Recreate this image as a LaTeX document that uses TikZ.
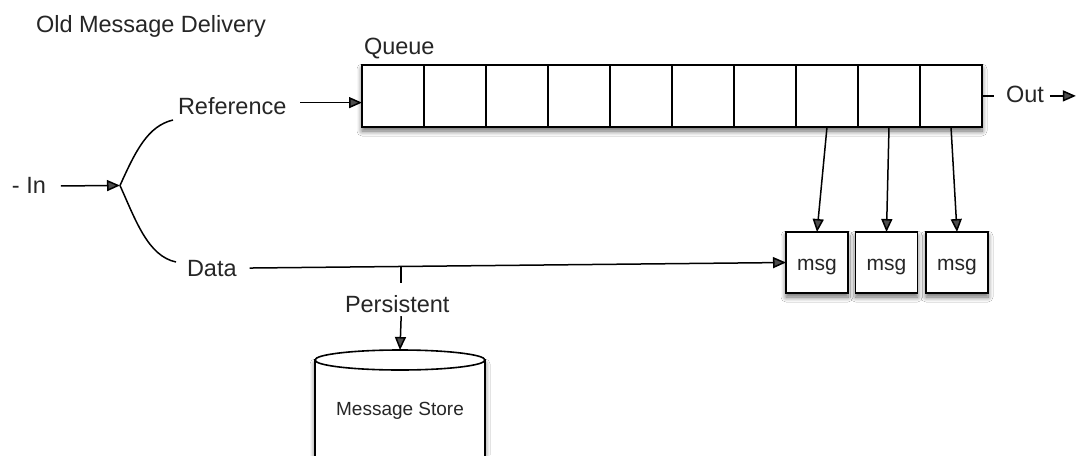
\documentclass[tikz,border=0pt]{standalone}
\usepackage{fontspec}
\setmainfont{Liberation Sans}
\usetikzlibrary{arrows.meta,shadows.blur,calc}
\begin{document}
\begin{tikzpicture}[x=1pt,y=-1pt,
  every node/.style={inner sep=0pt, outer sep=0pt},
  txt/.style={font=\fontsize{23.5}{28}\selectfont, text=black!85, anchor=base west},
  shad/.style={blur shadow={shadow xshift=0pt, shadow yshift=-4pt, shadow blur radius=5pt, shadow blur steps=8, shadow opacity=60}},
  cell/.style={draw, line width=1.6pt, minimum width=62pt, minimum height=62pt, fill=white},
  msgbox/.style={draw, line width=1.6pt, fill=white, minimum width=62pt, minimum height=61pt, font=\fontsize{21}{25}\selectfont, text=black!85, text height=15pt, text depth=0pt, shad},
  conn/.style={line width=1.5pt},
  arr/.style={conn, -{Triangle[length=13pt,width=11pt]}},
]
\useasboundingbox (0,0) rectangle (1078,455);
\fill[white] (0,0) rectangle (1078,455);
\clip (0,0) rectangle (1078,455);

% labels
\node[txt] (title) at (36,32) {Old Message Delivery};
\node[txt] (qlabel) at (364,54) {Queue};
\node[txt] (ref) at (178,114) {Reference};
\node[txt] (in) at (12,193) {- In};
\node[txt] (data) at (187,276) {Data};
\node[txt] (out) at (1006,102) {Out};
\node[txt] (pers) at (345,312) {Persistent};

% queue
\node[draw, fill=white, line width=1.6pt, minimum width=620pt, minimum height=62pt, shad] (queue) at (672,96) {};
\foreach \i in {1,...,10} {
  \node[cell] (q\i) at ({393+62*(\i-1)},96) {};
}

% msg boxes
\node[msgbox] (m1) at (817,262.5) {msg};
\node[msgbox] (m2) at (886.5,262.5) {msg};
\node[msgbox] (m3) at (957,262.5) {msg};

% cylinder
\draw[line width=1.6pt, fill=white, shad] (315,360) -- (315,480) -- (485,480) -- (485,360) -- cycle;
\draw[line width=1.6pt, fill=white] (400,360) ellipse [x radius=85, y radius=10];
\node[font=\fontsize{19}{23}\selectfont, text=black!85] (store) at (400,411) {Message Store};
\coordinate (storetop) at (400,350);

% connectors
\coordinate (branch) at (120,185.5);
\coordinate (refend) at (173,120);
\coordinate (dataend) at (176,262);
\draw[arr] ([xshift=15pt,yshift=-1pt]in.east) -- (branch);
\draw[conn] (branch) .. controls (136,150) and (148,126) .. (refend);
\draw[conn] (branch) .. controls (136,221) and (148,256) .. (dataend);
\draw[arr] ([xshift=14pt,yshift=3pt]ref.east) -- ([yshift=3pt]ref.east -| q1.west);
\draw[conn] (q10.east) -- ([xshift=-12pt]out.west |- q10.east);
\draw[arr] ([xshift=6pt,yshift=-2pt]out.east) -- ++(26,0);
\draw[arr] (q8.south) -- (m1.north);
\draw[arr] (q9.south) -- (m2.north);
\draw[arr] (q10.south) -- (m3.north);
\draw[arr] ([xshift=13pt]data.east) -- coordinate[pos=0.2825] (tap) (m1.west);
\draw[conn] (tap) -- ([yshift=12pt]tap |- pers.north);
\draw[arr] ([yshift=-4pt]tap |- pers.south) -- (storetop);
\end{tikzpicture}
\end{document}
